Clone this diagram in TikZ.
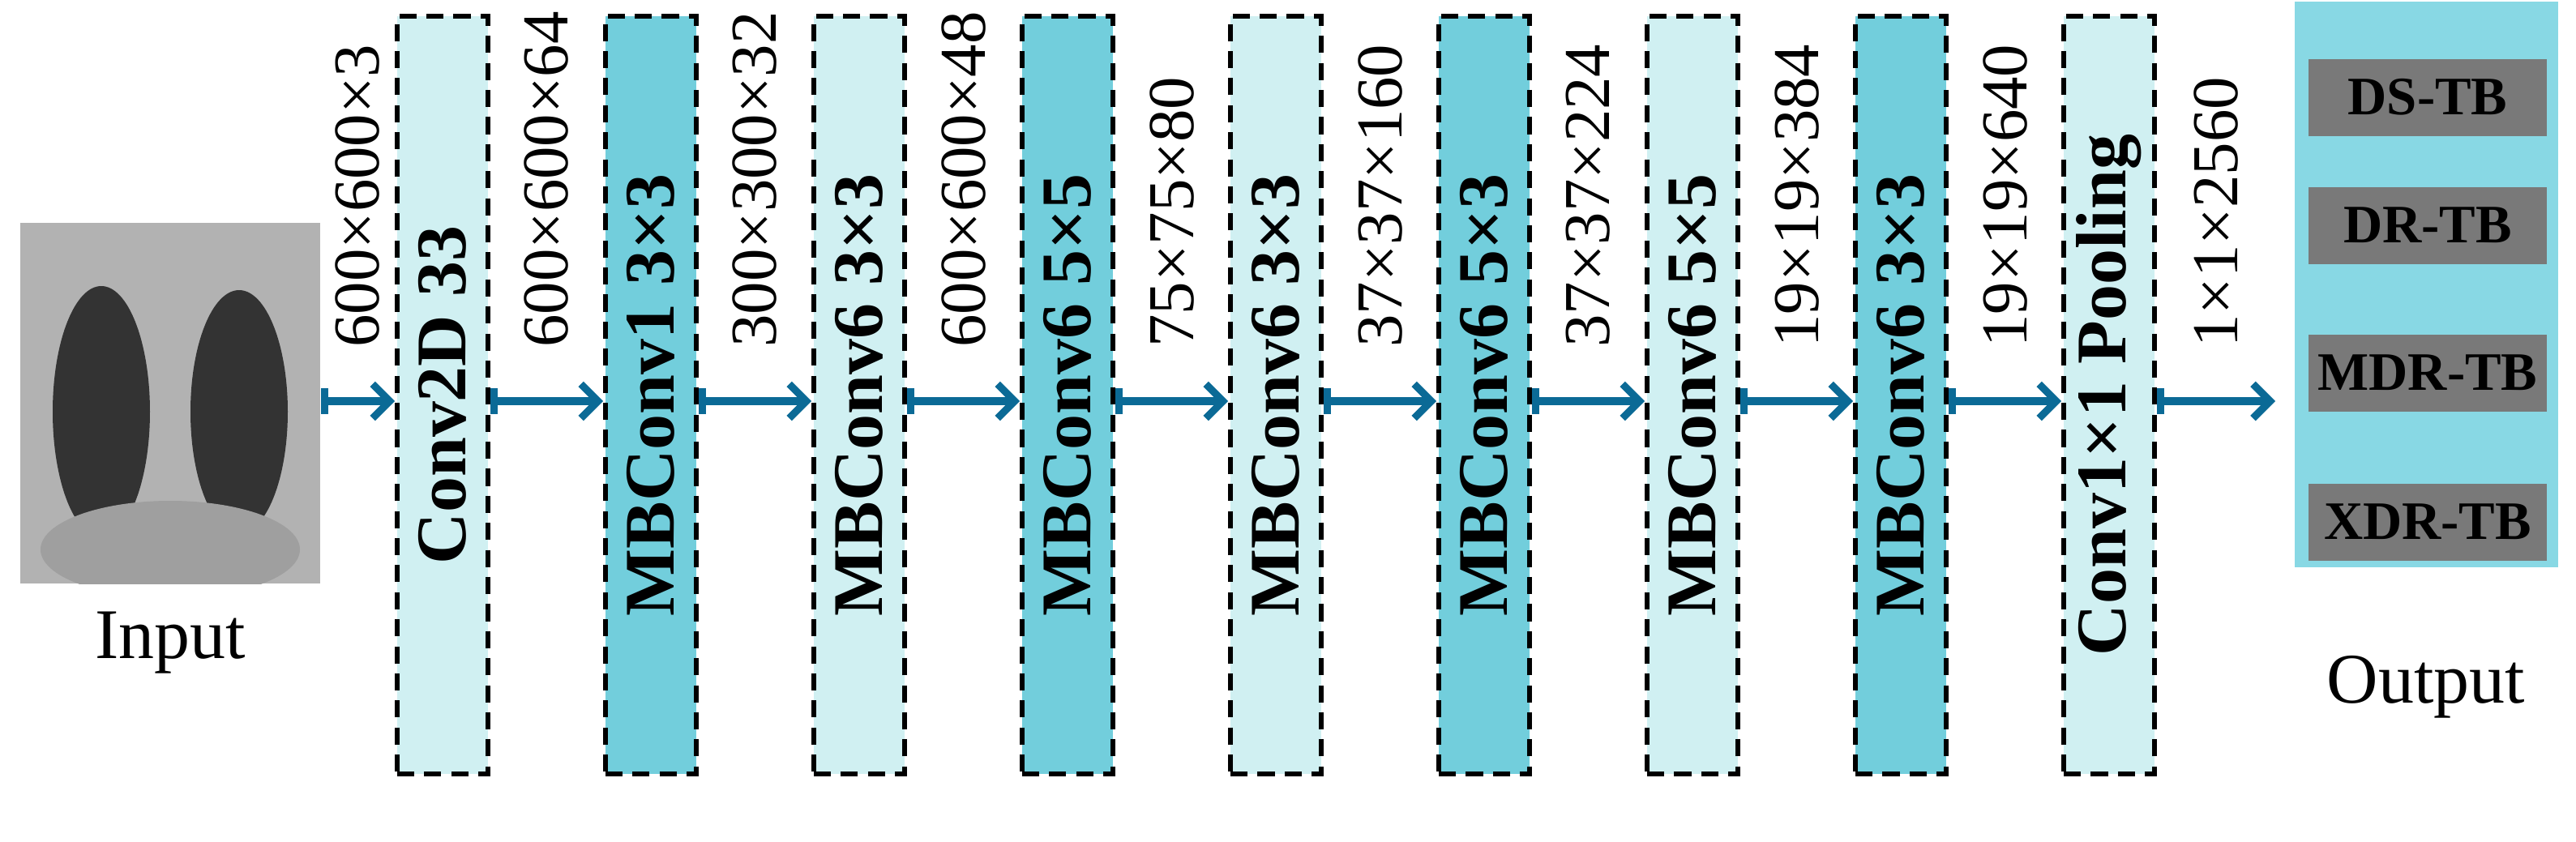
\documentclass[tikz,border=0pt]{standalone}
\usepackage{fontspec}
\setmainfont{Liberation Serif}
\usetikzlibrary{arrows.meta,positioning}
\definecolor{lightblk}{HTML}{D0F0F2}
\definecolor{darkblk}{HTML}{72CEDC}
\definecolor{outbg}{HTML}{88D8E4}
\definecolor{arrowblue}{HTML}{0B6A96}
\tikzset{
	layer/.style={draw=black,dash pattern=on 6pt off 3.5pt,line width=1.6pt,minimum width=1.12cm,minimum height=9.35cm,inner sep=0pt},
	lname/.style={rotate=90,font=\bfseries\fontsize{25}{28}\selectfont},
	dim/.style={rotate=90,anchor=west,text=black,font=\fontsize{23}{26}\selectfont},
	flow/.style={arrowblue,line width=2.6pt,{Bar[width=9pt]}-{Straight Barb[length=6pt,width=12pt]}},
	cls/.style={fill=gray!95!black,minimum width=2.94cm,minimum height=0.95cm,font=\bfseries\fontsize{19}{22}\selectfont}
}
\begin{document}
\begin{tikzpicture}[x=1cm,y=1cm]
	\useasboundingbox (0,0) rectangle (31.78,10.38);
	% input image
	\node[fill=gray!60,minimum width=3.7cm,minimum height=4.45cm,inner sep=0pt] (img) at (2.1,5.405) {};
	\begin{scope}
		\clip (img.south west) rectangle (img.north east);
		\fill[gray!40!black] (1.25,5.3) ellipse (0.6 and 1.55);
		\fill[gray!40!black] (2.95,5.3) ellipse (0.6 and 1.5);
		\fill[gray!75] (2.1,3.6) ellipse (1.6 and 0.6);
	\end{scope}
	\node[font=\fontsize{25}{28}\selectfont] (inp) at (2.1,2.45) {Input};
	%% the layers
	\foreach \i/\txt/\col in {1/Conv2D 33/lightblk,2/MBConv1 3×3/darkblk,3/MBConv6 3×3/lightblk,
		4/MBConv6 5×5/darkblk,5/MBConv6 3×3/lightblk,6/MBConv6 5×3/darkblk,
		7/MBConv6 5×5/lightblk,8/MBConv6 3×3/darkblk,9/Conv1×1 Pooling/lightblk}
	{
		\node[layer,fill=\col] (b\i) at ({5.46+(\i-1)*2.57},5.505) {};
		\node[lname] at (b\i) {\txt};
	}
	% output block
	\node[fill=outbg,minimum width=3.25cm,minimum height=6.98cm,inner sep=0pt] (out) at (29.935,6.87) {};
	\node[cls] (c1) at (29.95,9.18) {DS-TB};
	\node[cls] (c2) at (29.95,7.6) {DR-TB};
	\node[cls] (c3) at (29.95,5.78) {MDR-TB};
	\node[cls] (c4) at (29.95,3.94) {XDR-TB};
	\node[font=\fontsize{25}{28}\selectfont] (outl) at (29.93,1.9) {Output};
	\coordinate (end) at (28.07,5.43);
	%% the connectors
	\draw[flow] (img.east |- 0,5.43) -- (b1.west |- 0,5.43) node[midway,dim,xshift=0.5cm] {600×600×3};
	\foreach \i/\j/\d in {1/2/600×600×64,2/3/300×300×32,3/4/600×600×48,4/5/75×75×80,
		5/6/37×37×160,6/7/37×37×224,7/8/19×19×384,8/9/19×19×640}
	{
		\draw[flow] (b\i.east |- 0,5.43) -- (b\j.west |- 0,5.43) node[midway,dim,xshift=0.5cm] {\d};
	}
	\draw[flow] (b9.east |- 0,5.43) -- (end) node[midway,dim,xshift=0.5cm] {1×1×2560};
\end{tikzpicture}
\end{document}
